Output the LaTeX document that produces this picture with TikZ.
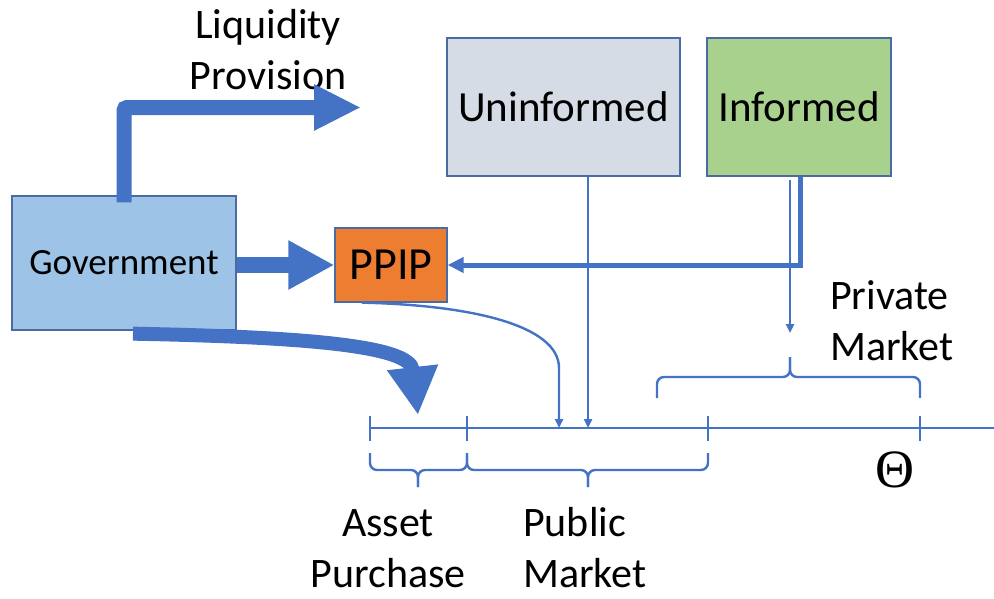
\documentclass[tikz,border=0pt]{standalone}
\usepackage{fontspec}
\setmainfont{Carlito}
\newfontfamily\thetafnt{Liberation Serif}
\usetikzlibrary{arrows.meta,calc}
\definecolor{lblue}{HTML}{4472C4}
\definecolor{boxborder}{HTML}{4A6BA3}
\definecolor{govfill}{HTML}{9DC3E6}
\definecolor{ppipfill}{HTML}{ED7D31}
\definecolor{uninfill}{HTML}{D6DCE5}
\definecolor{inffill}{HTML}{A9D18E}
\tikzset{
  box/.style={draw=boxborder, line width=1.3pt, inner sep=0pt},
  lbl/.style={font=\fontsize{42}{51}\selectfont, inner sep=0pt},
  fat/.style={draw=lblue, line width=15pt},
  thinline/.style={draw=lblue, line width=2.4pt},
  thinarrow/.style={thinline, -{Triangle[length=9pt,width=8pt]}},
  bracepath/.style={thinline, rounded corners=7pt}
}
\begin{document}
\begin{tikzpicture}[x=1pt,y=-1pt]
\useasboundingbox (0,0) rectangle (994,598);

% boxes
\node[box, fill=govfill, minimum width=224pt, minimum height=134pt,
      font=\fontsize{37}{44}\selectfont] (gov) at (124,263) {Government};
\node[box, fill=ppipfill, minimum width=112pt, minimum height=74pt,
      font=\fontsize{46}{54}\selectfont] (ppip) at (391,265) {PPIP};
\node[box, fill=uninfill, minimum width=233pt, minimum height=138pt,
      font=\fontsize{43}{50}\selectfont] (unin) at (563.5,107) {Uninformed};
\node[box, fill=inffill, minimum width=184pt, minimum height=138pt,
      font=\fontsize{43}{50}\selectfont] (inf) at (799,107) {Informed};

% axis points
\coordinate (a0) at (370,428);
\coordinate (a1) at (467,428);
\coordinate (a2) at (708,428);
\coordinate (a3) at (920,428);
\coordinate (aend) at (994,428);
\coordinate (pu) at (588,428);
\coordinate (pp) at (559,428);
\coordinate (lp) at (361,107.5);
\coordinate (ap) at (418,415);
\coordinate (pm) at (790,333);

% labels (base anchor = baseline of last line)
\node[lbl, align=center, anchor=base] (liq) at (268,89) {Liquidity\\Provision};
\node[lbl, align=left, anchor=base west] (priv) at (830,360) {Private\\Market};
\node[lbl, align=center, anchor=base] (asset) at (388,587) {Asset\\Purchase};
\node[lbl, align=left, anchor=base west] (pub) at (523,587) {Public\\Market};
\node[font=\thetafnt\fontsize{54}{60}\selectfont, inner sep=0pt] (theta) at (895,470) {Θ};

% thick government arrows
\draw[fat, rounded corners=3pt, -{Triangle[length=47pt,width=43pt]}]
  ([yshift=-7pt]gov.north) |- (lp);
\draw[fat, line width=16pt, -{Triangle[length=46pt,width=46pt]}]
  (gov.east |- ppip.west) -- (ppip.west);
\draw[fat, line width=14pt, -{Triangle[length=48pt,width=48pt]}]
  ([xshift=9pt,yshift=-3pt]gov.south) .. controls (300,337) and (410,345) .. (ap);

% axis
\draw[thinline] (a0) -- (aend);
\foreach \c in {a0,a1,a2,a3}
  \draw[thinline] ([yshift=12pt]\c) -- ([yshift=-13pt]\c);

% informed -> PPIP
\draw[draw=lblue, line width=5pt, -{Triangle[length=16pt,width=15pt]}]
  ([xshift=1pt]inf.south) |- (ppip.east);
% informed -> private market
\draw[thinarrow] ([xshift=-9pt,yshift=-3pt]inf.south) -- (pm);
% uninformed -> public market
\draw[thinarrow] (unin.south -| pu) -- (pu);
% PPIP -> public market
\draw[thinarrow] ([xshift=-29pt]ppip.south) .. controls (470,305) and (559,325) .. (559,368) -- (pp);

% braces
\draw[bracepath] (657,398) -- (657,377) -- (790,377) -- (790,357);
\draw[bracepath] (920,398) -- (920,377) -- (790,377) -- (790,357);
\draw[bracepath] (370,453) -- (370,470) -- (418,470) -- (418,487);
\draw[bracepath] (467,453) -- (467,470) -- (418,470) -- (418,487);
\draw[bracepath] (467,453) -- (467,470) -- (588,470) -- (588,487);
\draw[bracepath] (708,453) -- (708,470) -- (588,470) -- (588,487);
\end{tikzpicture}
\end{document}
